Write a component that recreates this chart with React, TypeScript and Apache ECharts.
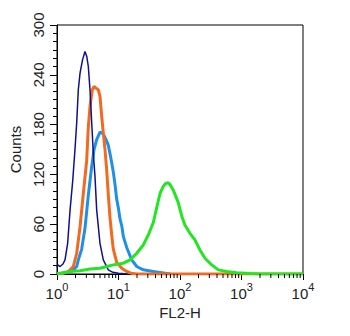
import React, { useEffect, useRef } from "react";
import * as echarts from "echarts";

const yTicks = [0, 60, 120, 180, 240, 300];
const xDecades = [1, 10, 100, 1000, 10000];
const minorTickMultipliers = [2, 3, 4, 5, 6, 7, 8, 9];

const navy: [number, number][] = [
  [1.0, 8], [1.03, 11], [1.12, 9], [1.25, 12], [1.35, 17], [1.49, 37], [1.63, 77],
  [1.8, 112], [1.96, 150], [2.09, 182], [2.22, 222], [2.37, 242], [2.6, 258],
  [2.85, 268], [3.05, 262], [3.23, 250], [3.44, 222], [3.67, 182], [3.89, 146],
  [4.15, 117], [4.42, 77], [5.0, 37], [5.66, 17], [6.83, 5], [8.1, 2], [10, 1], [14, 0],
];

const orange: [number, number][] = [
  [1, 0], [1.27, 1], [1.53, 3], [1.84, 9], [2.09, 25], [2.37, 57], [2.68, 97],
  [3.04, 137], [3.23, 177], [3.44, 202], [3.75, 222], [4.0, 226], [4.26, 224],
  [4.69, 222], [5.0, 214], [5.33, 190], [5.66, 170], [6.03, 150], [6.43, 125],
  [6.83, 95], [7.27, 68], [7.75, 47], [8.23, 30], [9.35, 14], [11.3, 7], [13.6, 3],
  [16, 1], [20, 0], [10000, 0],
];

const lightBlue: [number, number][] = [
  [1, 0], [1.6, 2], [1.96, 7], [2.09, 9], [2.22, 17], [2.52, 30], [2.85, 55],
  [3.23, 95], [3.67, 130], [4.0, 150], [4.42, 162], [5.0, 171], [5.39, 170],
  [5.8, 167], [6.43, 160], [6.83, 155], [7.27, 145], [7.75, 134], [8.23, 123],
  [8.77, 108], [9.35, 90], [9.93, 80], [10.6, 66], [11.3, 58], [12.0, 45],
  [13.6, 32], [16.4, 17], [19.8, 9], [25.3, 5], [36.8, 3], [57, 1], [70, 0],
];

const green: [number, number][] = [
  [1, 0], [1.12, 1], [1.63, 3], [2.37, 4], [3.44, 6], [5.0, 7], [6.43, 9],
  [8.23, 11], [12.0, 13], [15.4, 17], [19.8, 25], [25.3, 35], [30.5, 47],
  [36.8, 62], [41.8, 80], [47.3, 97], [52.9, 105], [58, 109], [64.6, 110],
  [70, 107], [77.8, 101], [93.8, 86], [106.6, 70], [120, 59], [145, 49],
  [175, 41], [211, 29], [255, 19], [328, 11], [420, 5], [575, 3], [836, 1.5],
  [1375, 0.5], [2000, 0], [10000, 0],
];

export default function App() {
  const ref = useRef<HTMLDivElement>(null);
  useEffect(() => {
    if (!ref.current) return;
    const chart = echarts.init(ref.current, undefined, { renderer: "svg" });
    const minorVals: [number, number][] = [];
    for (let d = 0; d < xDecades.length - 1; d++) {
      for (const m of minorTickMultipliers) {
        minorVals.push([xDecades[d] * m, 0]);
      }
    }
    const font = "Liberation Sans, Arial, sans-serif";
    const line = (data: [number, number][], color: string, width: number, z: number) => ({
      type: "line",
      data,
      showSymbol: false,
      symbol: "none",
      lineStyle: { color, width },
      z,
    });
    chart.setOption({
      animation: false,
      grid: {
        left: 57,
        right: 47,
        top: 25,
        bottom: 62,
        show: true,
        borderColor: "#000",
        borderWidth: 1,
        backgroundColor: "transparent",
      },
      xAxis: {
        type: "log",
        logBase: 10,
        min: 1,
        max: 10000,
        name: "FL2-H",
        nameLocation: "middle",
        nameGap: 31,
        nameTextStyle: { fontFamily: font, fontSize: 15, color: "#222" },
        axisLine: { show: true, lineStyle: { color: "#000", width: 1 } },
        axisTick: { show: true, inside: false, length: 6, lineStyle: { color: "#000", width: 1 } },
        splitLine: { show: false },
        minorTick: { show: false },
        axisLabel: {
          margin: 7,
          fontFamily: font,
          color: "#222",
          formatter: (v: number) => "{b|10}{s|" + Math.round(Math.log10(v)) + "}",
          rich: {
            b: { fontSize: 15, lineHeight: 24, fontFamily: font, color: "#222" },
            s: { fontSize: 11, lineHeight: 11, verticalAlign: "top", fontFamily: font, color: "#222" },
          },
        },
      },
      yAxis: {
        type: "value",
        min: 0,
        max: 300,
        interval: 60,
        name: "Counts",
        nameLocation: "middle",
        nameGap: 31,
        nameTextStyle: { fontFamily: font, fontSize: 15, color: "#222" },
        axisLine: { show: true, lineStyle: { color: "#000", width: 1 } },
        axisTick: { show: true, inside: false, length: 7, lineStyle: { color: "#000", width: 1 } },
        minorTick: { show: true, splitNumber: 6, length: 4, lineStyle: { color: "#000", width: 1 } },
        splitLine: { show: false },
        axisLabel: {
          rotate: 90,
          margin: 11,
          fontFamily: font,
          fontSize: 15,
          color: "#222",
          formatter: (v: number) => (yTicks.includes(v) ? String(v) : ""),
        },
      },
      series: [
        {
          type: "custom",
          data: minorVals,
          clip: false,
          silent: true,
          z: 10,
          renderItem: (_params: any, api: any) => {
            const p = api.coord([api.value(0), api.value(1)]);
            return {
              type: "line",
              shape: { x1: p[0], y1: p[1], x2: p[0], y2: p[1] + 4 },
              style: { stroke: "#000", lineWidth: 1 },
            };
          },
        },
        line(lightBlue, "#1e90e8", 3, 2),
        line(orange, "#f26a1f", 3, 3),
        line(navy, "#10108f", 1.5, 4),
        line(green, "#22e622", 3, 5),
      ],
    });
    return () => chart.dispose();
  }, []);
  return <div ref={ref} style={{ width: 350, height: 336, position: "absolute", left: 0, top: 0 }} />;
}
